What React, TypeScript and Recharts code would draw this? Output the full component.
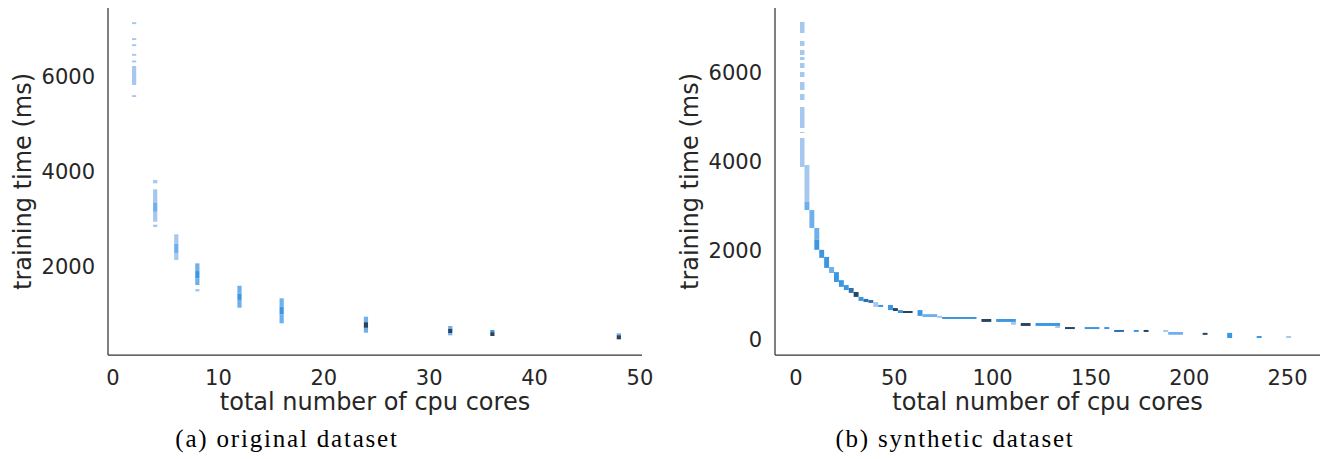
import { ComposedChart, XAxis, YAxis, Scatter, ReferenceArea, Label } from 'recharts';

// (a) original dataset: [cores, time low (ms), time high (ms), count bucket]
const originalCells: [number, number, number, number][] = [
  [2, 7115, 7155, 1], [2, 6778, 6818, 1], [2, 6650, 6690, 1], [2, 6446, 6486, 1],
  [2, 6306, 6346, 1], [2, 5830, 6230, 1], [2, 5575, 5615, 1],
  [4, 3753, 3823, 1], [4, 3350, 3626, 1], [4, 3150, 3350, 2], [4, 2942, 3150, 1],
  [4, 2830, 2880, 1],
  [6, 2480, 2676, 1], [6, 2280, 2480, 2], [6, 2133, 2280, 1],
  [8, 1900, 2063, 2], [8, 1750, 1900, 3], [8, 1605, 1750, 2], [8, 1470, 1520, 1],
  [12, 1420, 1590, 2], [12, 1290, 1420, 3], [12, 1126, 1290, 2],
  [16, 1150, 1324, 2], [16, 980, 1150, 3], [16, 796, 980, 2],
  [24, 820, 936, 2], [24, 700, 820, 5], [24, 598, 700, 2],
  [32, 680, 739, 2], [32, 590, 680, 5], [32, 543, 590, 2],
  [36, 610, 655, 3], [36, 528, 610, 5],
  [48, 545, 585, 2], [48, 458, 545, 5],
];

// (b) synthetic dataset: [cores from, cores to, time low (ms), time high (ms), count bucket]
const syntheticCells: [number, number, number, number, number][] = [
  [2, 4.3, 6876, 7122, 1], [2, 4.3, 6585, 6697, 1], [2, 4.3, 6383, 6495, 1],
  [2, 4.3, 6271, 6338, 1], [2, 4.3, 6092, 6204, 1], [2, 4.3, 5890, 6002, 1],
  [2, 4.3, 5599, 5778, 1], [2, 4.3, 5375, 5510, 1], [2, 4.3, 4748, 5218, 1],
  [2, 4.3, 4636, 4658, 1], [2, 4.3, 3875, 4524, 1],
  [4.3, 6.8, 3100, 3920, 1], [4.3, 6.8, 2910, 3100, 2],
  [6.8, 9.3, 2510, 2910, 2],
  [9.3, 11.8, 2250, 2510, 2], [9.3, 11.8, 2020, 2250, 3],
  [11.8, 14.3, 1840, 2020, 3],
  [14.3, 16.8, 1615, 1860, 3],
  [16.8, 19.3, 1500, 1635, 2],
  [19.3, 21.8, 1300, 1520, 3],
  [21.8, 24.3, 1190, 1340, 3],
  [24.3, 26.8, 1120, 1230, 3],
  [26.8, 29.3, 1055, 1165, 4],
  [29.3, 31.8, 965, 1075, 5],
  [31.8, 34.3, 875, 965, 3],
  [34.3, 36.8, 850, 920, 4],
  [36.8, 39.3, 830, 895, 4],
  [39.3, 41.8, 740, 850, 1],
  [41.8, 44.3, 740, 785, 3],
  [46.8, 49.3, 670, 785, 3],
  [49.3, 51.8, 650, 715, 5],
  [51.8, 54.3, 605, 670, 3],
  [54.3, 59.3, 605, 650, 5],
  [61.8, 64.3, 540, 670, 3],
  [64.3, 71.8, 515, 580, 2],
  [71.8, 74.3, 495, 540, 1],
  [74.3, 91.8, 470, 515, 3],
  [94.3, 99.3, 405, 470, 5],
  [101.8, 111.8, 405, 470, 3],
  [109.3, 111.8, 340, 405, 1],
  [114.3, 119.3, 315, 380, 5],
  [121.8, 134.3, 315, 380, 3],
  [131.8, 134.3, 270, 315, 1],
  [136.8, 141.8, 245, 290, 5],
  [146.8, 154.3, 245, 290, 3],
  [156.8, 159.3, 245, 290, 3],
  [161.8, 166.8, 180, 225, 4],
  [171.8, 174.3, 180, 225, 3],
  [176.8, 179.3, 180, 225, 5],
  [186.8, 189.3, 180, 225, 1],
  [189.3, 196.8, 115, 180, 2],
  [206.8, 209.3, 115, 160, 5],
  [219.3, 221.8, 45, 160, 3],
  [234.3, 236.8, 45, 90, 3],
  [249.3, 251.8, 45, 90, 1],
];

const originalXTicks = [0, 10, 20, 30, 40, 50];
const originalYTicks = [2000, 4000, 6000];
const syntheticXTicks = [0, 50, 100, 150, 200, 250];
const syntheticYTicks = [0, 2000, 4000, 6000];

// light -> dark, like seaborn's "light:C0" ramp
const countColors = ['#b7cfee', '#a6c7ee', '#6eb0ec', '#3c97e2', '#2e6fae', '#28445f'];

const ink = '#262626';
const tickStyle = { fontSize: 21, fill: ink, fontFamily: 'DejaVu Sans' };
const labelStyle = { fontSize: 24, fill: ink, fontFamily: 'DejaVu Sans', textAnchor: 'middle' as const };

const CELL_HALF = 0.2;

function Panel({ width, yAxisWidth, marginRight, xDomain, yDomain, xTicks, yTicks, rects, points, yLabelOffset }: any) {
  return (
    <ComposedChart width={width} height={420} margin={{ top: 8, right: marginRight, bottom: 5, left: 0 }}>
      <XAxis
        type="number"
        dataKey="x"
        domain={xDomain}
        ticks={xTicks}
        allowDataOverflow
        height={60}
        tickLine={false}
        tickMargin={9}
        axisLine={{ stroke: '#333', strokeWidth: 1.25 }}
        tick={tickStyle}
      >
        <Label value="total number of cpu cores" position="insideBottom" offset={5} style={labelStyle} />
      </XAxis>
      <YAxis
        type="number"
        dataKey="y"
        domain={yDomain}
        ticks={yTicks}
        allowDataOverflow
        width={yAxisWidth}
        tickLine={false}
        tickMargin={7}
        axisLine={{ stroke: '#333', strokeWidth: 1.25 }}
        tick={tickStyle}
      >
        <Label value="training time (ms)" angle={-90} position="insideLeft" offset={yLabelOffset} style={labelStyle} />
      </YAxis>
      {rects.map((r: any, i: number) => (
        <ReferenceArea
          key={i}
          x1={r.x1}
          x2={r.x2}
          y1={r.y1}
          y2={r.y2}
          fill={countColors[r.count]}
          fillOpacity={1}
          stroke="none"
          ifOverflow="visible"
        />
      ))}
      <Scatter data={points} fill="none" shape={() => <g />} isAnimationActive={false} />
    </ComposedChart>
  );
}

const captionStyle = {
  position: 'absolute' as const,
  top: 426,
  transform: 'translateX(-50%)',
  fontFamily: '"Liberation Serif", serif',
  fontSize: 25,
  lineHeight: '25px',
  letterSpacing: '1.8px',
  color: '#000',
  whiteSpace: 'nowrap' as const,
};

export default function App() {
  const origRects = originalCells.map(([c, lo, hi, n]) => ({ x1: c - CELL_HALF, x2: c + CELL_HALF, y1: lo, y2: hi, count: n }));
  const origPoints = originalCells.map(([c, lo, hi]) => ({ x: c, y: (lo + hi) / 2 }));
  const synthRects = syntheticCells.map(([a, b, lo, hi, n]) => ({ x1: a, x2: b, y1: lo, y2: hi, count: n }));
  const synthPoints = syntheticCells.map(([a, b, lo, hi]) => ({ x: (a + b) / 2, y: (lo + hi) / 2 }));

  return (
    <div style={{ position: 'absolute', left: 0, top: 0, width: 1341, height: 459, background: '#fff', overflow: 'hidden' }}>
      <div style={{ position: 'absolute', left: 0, top: 0 }}>
        <Panel
          width={660}
          yAxisWidth={108}
          marginRight={18}
          xDomain={[-0.48, 50.2]}
          yDomain={[127, 7455]}
          xTicks={originalXTicks}
          yTicks={originalYTicks}
          rects={origRects}
          points={origPoints}
          yLabelOffset={22}
        />
      </div>
      <div style={{ position: 'absolute', left: 670, top: 0 }}>
        <Panel
          width={671}
          yAxisWidth={105}
          marginRight={21}
          xDomain={[-10.7, 266.5]}
          yDomain={[-336, 7436]}
          xTicks={syntheticXTicks}
          yTicks={syntheticYTicks}
          rects={synthRects}
          points={synthPoints}
          yLabelOffset={19}
        />
      </div>
      <div style={{ ...captionStyle, left: 287 }}>(a) original dataset</div>
      <div style={{ ...captionStyle, left: 955 }}>(b) synthetic dataset</div>
    </div>
  );
}
